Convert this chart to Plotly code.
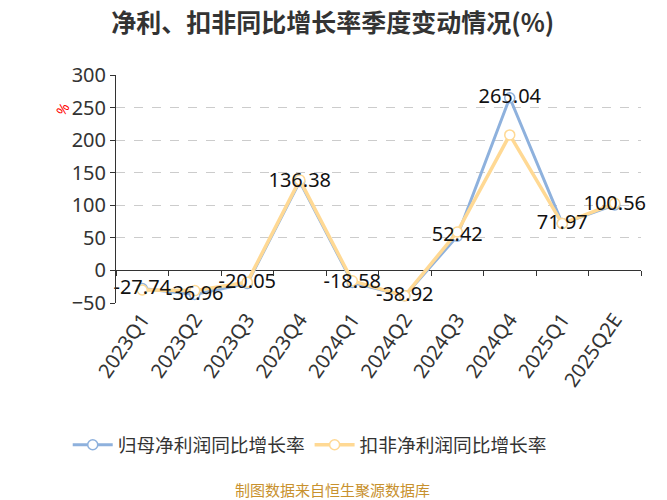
import plotly.graph_objects as go

categories = ["2023Q1", "2023Q2", "2023Q3", "2023Q4", "2024Q1", "2024Q2",
              "2024Q3", "2024Q4", "2025Q1", "2025Q2E"]
parent_growth = [-27.74, -36.96, -20.05, 136.38, -18.58, -38.92, 52.42, 265.04, 71.97, 100.56]
deducted_growth = [-30.0, -31.0, -18.0, 139.0, -16.0, -39.0, 59.0, 208.0, 72.0, 103.0]
y_ticks = [-50, 0, 50, 100, 150, 200, 250, 300]

BLUE = "#8EB1DD"
YELLOW = "#FFD994"
FONT = "Noto Sans, Noto Sans CJK SC, sans-serif"
CJK = "Noto Sans CJK SC, sans-serif"

ymin, ymax = -50, 300

fig = go.Figure()
fig.add_trace(go.Scatter(
    x=categories, y=parent_growth, name="归母净利润同比增长率",
    mode="lines+markers",
    line=dict(color=BLUE, width=3),
    marker=dict(symbol="circle", size=10, color="white", line=dict(color=BLUE, width=1.5)),
))
fig.add_trace(go.Scatter(
    x=categories, y=deducted_growth, name="扣非净利润同比增长率",
    mode="lines+markers",
    line=dict(color=YELLOW, width=3.5),
    marker=dict(symbol="circle", size=10, color="white", line=dict(color=YELLOW, width=1.5)),
))
fig.add_trace(go.Scatter(
    x=categories, y=parent_growth, mode="text", showlegend=False, hoverinfo="skip",
    text=[f"{v:.2f}" for v in parent_growth], textposition="middle center",
    textfont=dict(size=20, color="#111", family=FONT), cliponaxis=False,
))
# invisible carrier for the zero-line tick axis
fig.add_trace(go.Scatter(x=categories, y=[None] * len(categories), xaxis="x2",
                         showlegend=False, hoverinfo="skip", mode="lines"))

fig.update_layout(
    width=667, height=500,
    margin=dict(l=108, r=34, t=67, b=205, autoexpand=False),
    paper_bgcolor="white", plot_bgcolor="white",
    font=dict(family=FONT, color="#333"),
    title=dict(text="<b>净利、扣非同比增长率季度变动情况(%)</b>", x=0.487, xanchor="center",
               xref="container", yref="container",
               y=0.97, yanchor="middle", font=dict(size=25, family=CJK, color="#333")),
    showlegend=True,
    legend=dict(orientation="h", x=0.369, xanchor="center", y=-0.623, yanchor="middle",
                font=dict(size=18.7, family=CJK, color="#333"), itemwidth=40),
    xaxis=dict(type="category", categoryorder="array", categoryarray=categories,
               range=[-0.5, 9.5], showgrid=False, showline=False, ticks="",
               tickangle=-55, tickfont=dict(size=20, color="#333"), automargin=False),
    xaxis2=dict(type="category", categoryorder="array", categoryarray=categories,
                range=[-0.5, 9.5], overlaying="x", anchor="free",
                position=(0 - ymin) / (ymax - ymin), side="bottom",
                showgrid=False, showline=False, ticks="outside", tickson="boundaries",
                ticklen=5, tickcolor="#333", showticklabels=False),
    yaxis=dict(range=[ymin, ymax], tickvals=y_ticks, showgrid=True, gridcolor="#ccc",
               griddash="dash", gridwidth=1, zeroline=True, zerolinecolor="#333",
               zerolinewidth=1, showline=True, linecolor="#333", linewidth=1,
               ticks="outside", ticklen=5, tickcolor="#333", automargin=False,
               tickfont=dict(size=20, color="#333")),
    annotations=[
        dict(text="%", xref="paper", yref="paper", x=-0.101, y=0.851, showarrow=False,
             xanchor="center", yanchor="middle",
             textangle=-60, font=dict(size=14, color="red")),
        dict(text="制图数据来自恒生聚源数据库", xref="paper", yref="paper", x=0.413, y=-0.82,
             xanchor="center", yanchor="middle", showarrow=False,
             font=dict(size=15, family=CJK, color="#C8912E")),
    ],
)

fig.write_html("out.html")
